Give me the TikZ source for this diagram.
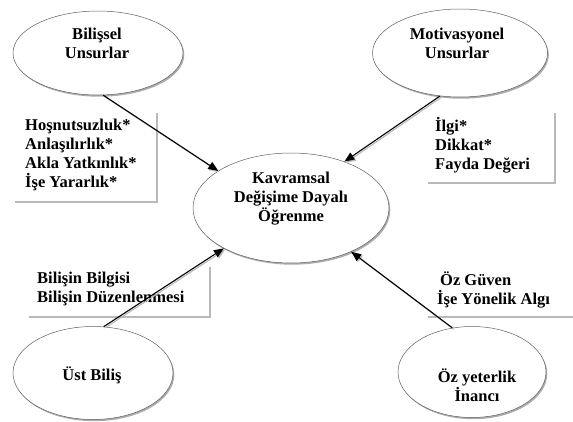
\documentclass[tikz,border=0pt]{standalone}
\usepackage{fontspec}
\setmainfont{Liberation Serif}
\usetikzlibrary{shapes.geometric,shadows,arrows.meta}
\begin{document}
\begin{tikzpicture}[x=1pt,y=-1pt,
  bubble/.style={ellipse, draw=gray!75!black, line width=0.5pt, fill=white, inner sep=0pt,
    drop shadow={shadow xshift=1.3pt, shadow yshift=-1.7pt, fill=gray!65, opacity=1}},
  txt/.style={font=\fontsize{16.5}{19}\selectfont\bfseries, inner sep=0pt, align=center},
  boxtxt/.style={txt, align=left, anchor=west},
  shadeline/.style={gray!55, line width=1.6pt},
  link/.style={-{Triangle[length=10pt,width=8pt]}, line width=1.1pt},
  linkshade/.style={link, gray!55, transform canvas={shift={(1.3pt,-1.3pt)}}}]
\useasboundingbox (0,0) rectangle (573,421);

% ellipses
\node[bubble, minimum width=170pt, minimum height=84pt] (bil) at (98,53) {};
\node[bubble, minimum width=175pt, minimum height=88pt] (mot) at (460,53) {};
\node[bubble, minimum width=196pt, minimum height=110pt] (kav) at (291,208) {};
\node[bubble, minimum width=160pt, minimum height=93pt] (ust) at (93,373) {};
\node[bubble, minimum width=148pt, minimum height=91pt] (oz) at (472,372) {};

% ellipse texts
\node[txt] (bilt) at (97,43) {Bilişsel\\Unsurlar};
\node[txt] (mott) at (457,43) {Motivasyonel\\Unsurlar};
\node[txt] (kavt) at (291,199) {Kavramsal\\Değişime Dayalı\\Öğrenme};
\node[txt] (ustt) at (92,375) {Üst Biliş};
\node[txt] (ozt) at (477,385) {Öz yeterlik\\İnancı};

% side boxes: text with a shadow on the right and bottom
\node[boxtxt] (b1) at (25,154.5) {Hoşnutsuzluk*\\Anlaşılırlık*\\Akla Yatkınlık*\\İşe Yararlık*};
\draw[shadeline] (157,113) -- (157,202) -- (15,202);
\node[boxtxt] (b2) at (435,145) {İlgi*\\Dikkat*\\Fayda Değeri};
\draw[shadeline] (555,113) -- (555,183) -- (428,183);
\node[boxtxt] (b3) at (37,288.5) {Bilişin Bilgisi\\Bilişin Düzenlenmesi};
\draw[shadeline] (210,267) -- (210,317) -- (29,317);
\node[boxtxt] (b4) at (437,289.5) {\hspace*{3pt}Öz Güven\\İşe Yönelik Algı};
\draw[shadeline] (428,317) -- (573,317);

% arrows towards the central concept
\draw[linkshade] (bil.-83.5) -- (kav.153.8);
\draw[link] (bil.-83.5) -- (kav.153.8);
\draw[linkshade] (mot.-115) -- (kav.41.8);
\draw[link] (mot.-115) -- (kav.41.8);
\draw[linkshade] (ust.77.5) -- (kav.211);
\draw[link] (ust.77.5) -- (kav.211);
\draw[linkshade] (oz.114.4) -- (kav.-36.7);
\draw[link] (oz.114.4) -- (kav.-36.7);
\end{tikzpicture}
\end{document}
